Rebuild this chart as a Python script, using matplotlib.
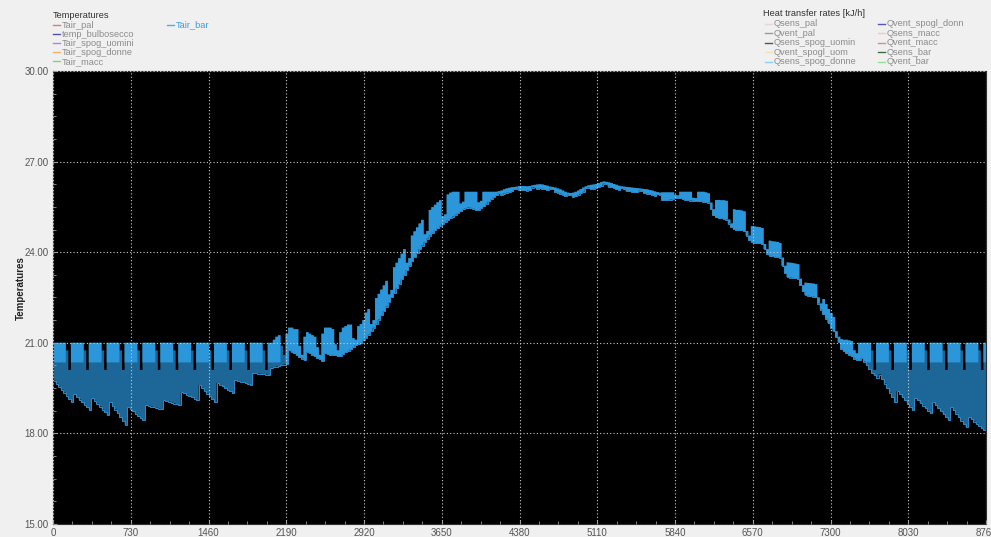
import numpy as np
import matplotlib
matplotlib.use("Agg")
import matplotlib.pyplot as plt
from matplotlib.lines import Line2D
from matplotlib.ticker import AutoMinorLocator, FormatStrFormatter

# Tair_bar, one row per week (Monday first), degrees C.
# daily_min / daily_max: lowest and highest value reached during each day.
daily_min = [
    19.75, 19.65, 19.55, 19.45, 19.35, 19.25, 19.14,
    19.04, 19.30, 19.21, 19.12, 19.03, 18.95, 18.86,
    18.77, 19.17, 19.08, 18.98, 18.89, 18.79, 18.70,
    18.60, 19.04, 18.91, 18.79, 18.66, 18.53, 18.41,
    18.28, 18.87, 18.80, 18.73, 18.65, 18.58, 18.51,
    18.44, 18.94, 18.92, 18.89, 18.87, 18.85, 18.82,
    18.80, 19.10, 19.07, 19.05, 19.02, 18.99, 18.97,
    18.94, 19.37, 19.33, 19.28, 19.24, 19.19, 19.15,
    19.10, 19.60, 19.51, 19.41, 19.32, 19.23, 19.13,
    19.04, 19.67, 19.61, 19.56, 19.50, 19.44, 19.39,
    19.33, 19.77, 19.74, 19.71, 19.69, 19.66, 19.63,
    19.60, 20.00, 19.99, 19.98, 19.97, 19.96, 19.95,
    19.93, 20.17, 20.19, 20.21, 20.23, 20.25, 20.28,
    20.30, 20.75, 20.70, 20.65, 20.58, 20.52, 20.48,
    20.42, 20.70, 20.65, 20.60, 20.55, 20.50, 20.45,
    20.40, 20.65, 20.62, 20.60, 20.60, 20.58, 20.55,
    20.55, 20.62, 20.68, 20.72, 20.78, 20.85, 20.92,
    20.95, 21.00, 21.08, 21.17, 21.27, 21.38, 21.50,
    21.63, 21.77, 21.91, 22.05, 22.20, 22.35, 22.50,
    22.65, 22.80, 22.95, 23.10, 23.25, 23.40, 23.55,
    23.70, 23.84, 23.97, 24.10, 24.22, 24.34, 24.45,
    24.55, 24.64, 24.72, 24.80, 24.87, 24.94, 25.00,
    25.06, 25.12, 25.18, 25.24, 25.30, 25.36, 25.42,
    25.46, 25.48, 25.47, 25.44, 25.40, 25.40, 25.45,
    25.52, 25.60, 25.68, 25.76, 25.83, 25.89, 25.95,
    25.90, 25.94, 25.97, 25.99, 26.01, 26.09, 26.10,
    26.05, 26.05, 26.05, 26.04, 26.05, 26.14, 26.16,
    26.10, 26.11, 26.10, 26.08, 26.06, 26.10, 26.09,
    26.00, 25.97, 25.94, 25.90, 25.86, 25.90, 25.89,
    25.83, 25.86, 25.90, 25.95, 26.00, 26.11, 26.14,
    26.09, 26.10, 26.12, 26.15, 26.18, 26.27, 26.26,
    26.17, 26.15, 26.12, 26.09, 26.06, 26.11, 26.10,
    26.02, 26.01, 26.00, 25.99, 25.98, 26.04, 26.03,
    25.95, 25.94, 25.92, 25.90, 25.87, 25.92, 25.90,
    25.72, 25.72, 25.73, 25.74, 25.75, 25.80, 25.80,
    25.78, 25.75, 25.73, 25.72, 25.71, 25.70, 25.69,
    25.68, 25.68, 25.67, 25.66, 25.64, 25.42, 25.22,
    25.15, 25.13, 25.12, 25.10, 25.08, 24.95, 24.82,
    24.76, 24.74, 24.73, 24.72, 24.70, 24.55, 24.40,
    24.33, 24.31, 24.30, 24.29, 24.27, 24.10, 23.95,
    23.88, 23.86, 23.85, 23.84, 23.82, 23.55, 23.30,
    23.18, 23.16, 23.15, 23.14, 23.12, 22.90, 22.70,
    22.58, 22.56, 22.54, 22.53, 22.50, 22.30, 22.10,
    21.95, 21.80, 21.65, 21.50, 21.38, 21.20, 21.02,
    20.80, 20.72, 20.66, 20.60, 20.55, 20.48, 20.44,
    20.42, 20.50, 20.38, 20.25, 20.12, 20.00, 19.92,
    19.85, 19.95, 19.80, 19.65, 19.50, 19.35, 19.20,
    19.04, 19.40, 19.30, 19.19, 19.09, 18.98, 18.88,
    18.77, 19.17, 19.09, 19.00, 18.92, 18.84, 18.75,
    18.67, 19.04, 18.94, 18.84, 18.74, 18.64, 18.54,
    18.44, 18.87, 18.76, 18.65, 18.53, 18.42, 18.31,
    18.20, 18.54, 18.47, 18.39, 18.32, 18.25, 18.17,
    18.10,
]

daily_max = [
    21.00, 21.00, 21.00, 21.00, 21.00, 20.75, 20.10,
    21.00, 21.00, 21.00, 21.00, 21.00, 20.75, 20.10,
    21.00, 21.00, 21.00, 21.00, 21.00, 20.75, 20.10,
    21.00, 21.00, 21.00, 21.00, 21.00, 20.75, 20.10,
    21.00, 21.00, 21.00, 21.00, 21.00, 20.75, 20.10,
    21.00, 21.00, 21.00, 21.00, 21.00, 20.75, 20.10,
    21.00, 21.00, 21.00, 21.00, 21.00, 20.75, 20.10,
    21.00, 21.00, 21.00, 21.00, 21.00, 20.75, 20.10,
    21.00, 21.00, 21.00, 21.00, 21.00, 20.75, 20.10,
    21.00, 21.00, 21.00, 21.00, 21.00, 20.75, 20.10,
    21.00, 21.00, 21.00, 21.00, 21.00, 20.75, 20.10,
    21.00, 21.00, 21.00, 21.00, 21.00, 20.75, 20.10,
    21.00, 21.00, 21.10, 21.20, 21.25, 20.90, 20.60,
    21.30, 21.50, 21.50, 21.45, 21.45, 20.90, 20.60,
    21.20, 21.35, 21.30, 21.25, 21.20, 20.85, 20.60,
    21.30, 21.50, 21.50, 21.50, 21.45, 20.95, 20.75,
    21.35, 21.50, 21.55, 21.60, 21.60, 21.15, 21.10,
    21.55, 21.62, 21.75, 22.00, 22.12, 21.62, 21.75,
    22.48, 22.62, 22.76, 22.90, 23.05, 22.60, 22.75,
    23.50, 23.65, 23.80, 23.95, 24.10, 23.65, 23.80,
    24.55, 24.69, 24.82, 24.95, 25.07, 24.59, 24.70,
    25.40, 25.49, 25.57, 25.65, 25.72, 25.19, 25.25,
    25.91, 25.97, 26.00, 26.00, 26.00, 25.61, 25.67,
    26.00, 26.00, 26.00, 26.00, 26.00, 25.65, 25.70,
    26.00, 26.00, 26.00, 26.00, 26.00, 26.00, 26.02,
    26.04, 26.08, 26.11, 26.13, 26.15, 26.16, 26.17,
    26.19, 26.19, 26.19, 26.18, 26.19, 26.21, 26.23,
    26.24, 26.25, 26.24, 26.22, 26.20, 26.17, 26.16,
    26.14, 26.11, 26.08, 26.04, 26.00, 25.97, 25.96,
    25.97, 26.00, 26.04, 26.09, 26.14, 26.18, 26.21,
    26.23, 26.24, 26.26, 26.29, 26.32, 26.34, 26.33,
    26.31, 26.29, 26.26, 26.23, 26.20, 26.18, 26.17,
    26.16, 26.15, 26.14, 26.13, 26.12, 26.11, 26.10,
    26.09, 26.08, 26.06, 26.04, 26.01, 25.99, 25.97,
    25.98, 25.98, 25.98, 25.98, 25.98, 25.90, 25.88,
    26.00, 26.00, 26.00, 26.00, 26.00, 25.80, 25.79,
    26.00, 26.00, 26.00, 25.98, 25.95, 25.64, 25.42,
    25.73, 25.73, 25.72, 25.72, 25.70, 25.08, 24.95,
    25.42, 25.40, 25.40, 25.38, 25.35, 24.70, 24.55,
    24.86, 24.85, 24.84, 24.83, 24.80, 24.27, 24.10,
    24.38, 24.36, 24.35, 24.34, 24.30, 23.82, 23.55,
    23.66, 23.65, 23.64, 23.62, 23.60, 23.12, 22.90,
    22.99, 22.98, 22.97, 22.96, 22.94, 22.50, 22.30,
    22.45, 22.28, 22.12, 21.98, 21.85, 21.38, 21.20,
    21.12, 21.10, 21.10, 21.08, 21.06, 20.75, 20.65,
    21.00, 21.00, 21.00, 21.00, 21.00, 20.75, 20.10,
    21.00, 21.00, 21.00, 21.00, 21.00, 20.75, 20.10,
    21.00, 21.00, 21.00, 21.00, 21.00, 20.75, 20.10,
    21.00, 21.00, 21.00, 21.00, 21.00, 20.75, 20.10,
    21.00, 21.00, 21.00, 21.00, 21.00, 20.75, 20.10,
    21.00, 21.00, 21.00, 21.00, 21.00, 20.75, 20.10,
    21.00, 21.00, 21.00, 21.00, 21.00, 20.75, 20.10,
    21.00,
]

# Lower edge of the thermostat band while heating runs (days 0-90 and 315-364);
# on unheated weekend days it equals the daily maximum.
heating_floor_start = [
    20.35, 20.35, 20.35, 20.35, 20.35, 20.75, 20.10,
    20.35, 20.35, 20.35, 20.35, 20.35, 20.75, 20.10,
    20.35, 20.35, 20.35, 20.35, 20.35, 20.75, 20.10,
    20.35, 20.35, 20.35, 20.35, 20.35, 20.75, 20.10,
    20.35, 20.35, 20.35, 20.35, 20.35, 20.75, 20.10,
    20.35, 20.35, 20.35, 20.35, 20.35, 20.75, 20.10,
    20.35, 20.35, 20.35, 20.35, 20.35, 20.75, 20.10,
    20.35, 20.35, 20.35, 20.35, 20.35, 20.75, 20.10,
    20.35, 20.35, 20.35, 20.35, 20.35, 20.75, 20.10,
    20.35, 20.35, 20.35, 20.35, 20.35, 20.75, 20.10,
    20.35, 20.35, 20.35, 20.35, 20.35, 20.75, 20.10,
    20.35, 20.35, 20.35, 20.35, 20.35, 20.75, 20.10,
    20.35, 20.35, 20.35, 20.35, 20.35, 20.90, 20.60,
]
heating_floor_end = [
    20.42, 20.50, 20.38, 20.35, 20.35, 20.75, 20.10,
    20.35, 20.35, 20.35, 20.35, 20.35, 20.75, 20.10,
    20.35, 20.35, 20.35, 20.35, 20.35, 20.75, 20.10,
    20.35, 20.35, 20.35, 20.35, 20.35, 20.75, 20.10,
    20.35, 20.35, 20.35, 20.35, 20.35, 20.75, 20.10,
    20.35, 20.35, 20.35, 20.35, 20.35, 20.75, 20.10,
    20.35, 20.35, 20.35, 20.35, 20.35, 20.75, 20.10,
    20.35,
]

x_ticks = [0, 730, 1460, 2190, 2920, 3650, 4380, 5110, 5840, 6570, 7300, 8030, 8760]
y_ticks = [15.0, 18.0, 21.0, 24.0, 27.0, 30.0]

temp_legend = [
    ("Tair_pal", "#e07a7a"),
    ("temp_bulbosecco", "#5a4fa8"),
    ("Tair_spog_uomini", "#c77ae0"),
    ("Tair_spog_donne", "#f2b46a"),
    ("Tair_macc", "#7fd67f"),
]
heat_legend_left = [
    ("Qsens_pal", "#ead6d6"),
    ("Qvent_pal", "#9a9a9a"),
    ("Qsens_spog_uomin", "#555555"),
    ("Qvent_spogl_uom", "#f3e3b8"),
    ("Qsens_spog_donne", "#8fd0f2"),
]
heat_legend_right = [
    ("Qvent_spogl_donn", "#5555c0"),
    ("Qsens_macc", "#f2c6c6"),
    ("Qvent_macc", "#d98c8c"),
    ("Qsens_bar", "#3f6e3f"),
    ("Qvent_bar", "#98e098"),
]

BG = "#f0f0f0"
BRIGHT = "#2b97da"
DIM = "#1c6798"
FONT = "Liberation Sans"

W, H = 991, 537
fig = plt.figure(figsize=(W / 100, H / 100), dpi=100, facecolor=BG)
ax = fig.add_axes([53 / W, 13 / H, 933 / W, 453 / H])
ax.set_facecolor("black")

dmin = np.array(daily_min)
dmax = np.array(daily_max)
floor = np.concatenate([heating_floor_start, dmin[len(heating_floor_start):315], heating_floor_end])
edges = np.arange(len(dmin) + 1) * 24.0

# full daily range, the dense thermostat band on top of it, and the daily minimum trace
ax.stairs(dmax, edges, baseline=dmin, fill=True, color=DIM, lw=0)
ax.stairs(dmax, edges, baseline=floor, fill=True, color=BRIGHT, lw=0)
ax.stairs(dmin, edges, baseline=None, color="#2f8cc8", lw=0.7)

ax.set_xlim(0, 8760)
ax.set_ylim(15, 30)
ax.set_xticks(x_ticks)
ax.set_yticks(y_ticks)
ax.yaxis.set_major_formatter(FormatStrFormatter("%.2f"))
ax.xaxis.set_minor_locator(AutoMinorLocator(4))
ax.yaxis.set_minor_locator(AutoMinorLocator(4))
ax.grid(True, which="major", color="#cfcfcf", linestyle=(0, (1, 2)), linewidth=0.8)
ax.set_axisbelow(False)
ax.tick_params(axis="both", which="both", direction="in", colors="#9a9a9a",
               labelcolor="#555555", labelsize=7, pad=3)
ax.tick_params(which="major", length=3)
ax.tick_params(which="minor", length=2)
for s in ax.spines.values():
    s.set_color("#303030")
    s.set_linewidth(0.8)
for lab in ax.get_xticklabels() + ax.get_yticklabels():
    lab.set_fontfamily(FONT)

ax.set_ylabel("Temperatures", fontsize=7, fontweight="bold", family=FONT, color="#222222")
ax.yaxis.set_label_coords(-0.0295, 0.52)


def fx(px):
    return px / W


def fy(py):
    return 1 - py / H


def legend_entry(x, y, label, color, text_color="#8c8c8c"):
    fig.add_artist(Line2D([fx(x), fx(x + 7)], [fy(y), fy(y)], color=color, lw=1.0,
                          transform=fig.transFigure))
    fig.text(fx(x + 9), fy(y), label, fontsize=6.7, color=text_color, va="center", ha="left",
             family=FONT)


fig.text(fx(53), fy(15), "Temperatures", fontsize=6.7, color="#333333", va="center",
         ha="left", family=FONT)
for i, (lab, col) in enumerate(temp_legend):
    legend_entry(53, 25 + 9.1 * i, lab, col)
legend_entry(167, 25, "Tair_bar", "#4ab0e6", text_color="#3aa0dc")

fig.text(fx(763), fy(14), "Heat transfer rates [kJ/h]", fontsize=6.7, color="#333333",
         va="center", ha="left", family=FONT)
for i, (lab, col) in enumerate(heat_legend_left):
    legend_entry(765, 24 + 9.4 * i, lab, col)
for i, (lab, col) in enumerate(heat_legend_right):
    legend_entry(878, 24 + 9.4 * i, lab, col)

fig.savefig("out.png", dpi=100, facecolor=BG)
